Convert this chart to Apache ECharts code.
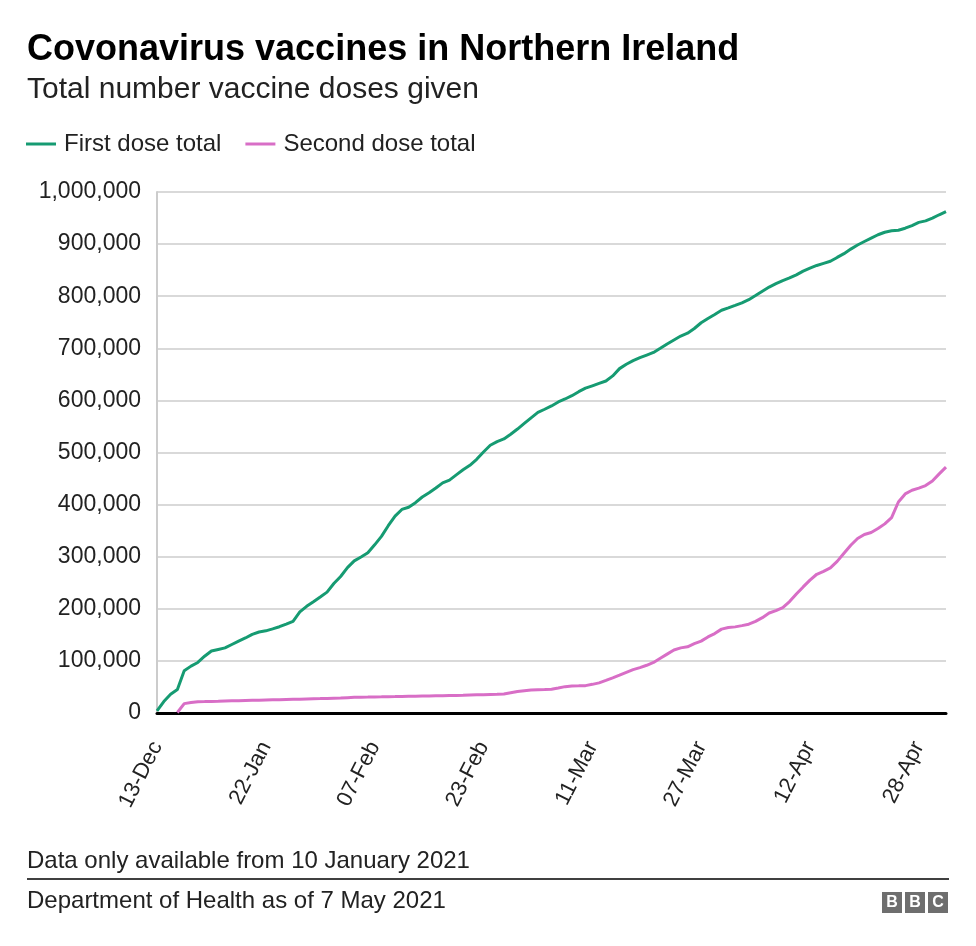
<!DOCTYPE html>
<html>
<head>
<meta charset="utf-8">
<script src="https://cdn.jsdelivr.net/npm/echarts@6/dist/echarts.min.js"></script>
<style>
html,body{margin:0;padding:0;background:#fff;}
#chart{width:976px;height:946px;}
</style>
</head>
<body>
<div id="chart"></div>
<script>
const categories = ["13-Dec",
"07-Jan","08-Jan","09-Jan","10-Jan","11-Jan","12-Jan","13-Jan","14-Jan","15-Jan","16-Jan","17-Jan","18-Jan","19-Jan","20-Jan","21-Jan","22-Jan","23-Jan","24-Jan","25-Jan","26-Jan","27-Jan","28-Jan","29-Jan","30-Jan","31-Jan",
"01-Feb","02-Feb","03-Feb","04-Feb","05-Feb","06-Feb","07-Feb","08-Feb","09-Feb","10-Feb","11-Feb","12-Feb","13-Feb","14-Feb","15-Feb","16-Feb","17-Feb","18-Feb","19-Feb","20-Feb","21-Feb","22-Feb","23-Feb","24-Feb","25-Feb","26-Feb","27-Feb","28-Feb",
"01-Mar","02-Mar","03-Mar","04-Mar","05-Mar","06-Mar","07-Mar","08-Mar","09-Mar","10-Mar","11-Mar","12-Mar","13-Mar","14-Mar","15-Mar","16-Mar","17-Mar","18-Mar","19-Mar","20-Mar","21-Mar","22-Mar","23-Mar","24-Mar","25-Mar","26-Mar","27-Mar","28-Mar","29-Mar","30-Mar","31-Mar",
"01-Apr","02-Apr","03-Apr","04-Apr","05-Apr","06-Apr","07-Apr","08-Apr","09-Apr","10-Apr","11-Apr","12-Apr","13-Apr","14-Apr","15-Apr","16-Apr","17-Apr","18-Apr","19-Apr","20-Apr","21-Apr","22-Apr","23-Apr","24-Apr","25-Apr","26-Apr","27-Apr","28-Apr","29-Apr","30-Apr",
"01-May","02-May"];

const firstDose = [4000,
22000,36000,45000,81000,90000,97000,109000,119000,122000,125000,131500,138000,144000,151000,155400,157700,161500,165600,170700,176000,194000,204800,213600,222600,232000,
248500,262000,279000,292000,299400,307500,322800,339000,359500,377800,390700,395000,403700,414600,422800,431900,441700,447000,457000,466800,475500,487000,501000,514000,521000,526000,535000,545000,
555800,566600,577000,583000,589400,597000,602700,609000,616700,623400,628000,632600,637200,647000,661000,669400,676400,682000,687000,692000,700000,708300,716000,723500,729000,738000,749000,
757300,765000,773000,777500,782300,787300,793300,801400,809600,817600,824000,830000,835000,841000,848000,853700,859000,863000,867000,874400,881600,890400,898300,905000,911500,918000,922800,925500,926700,930500,
935600,941700,944600,950000,956300,962400];

const secondDose = [null,
null,null,1000,18000,20000,21800,22000,22300,22600,23000,23300,23600,24000,24300,24600,25000,25300,25600,26000,26300,26600,27000,27300,27600,28000,
28300,28600,29500,30000,30300,30500,30800,31000,31300,31500,31800,32000,32200,32400,32600,32900,33100,33400,33700,34000,34400,34800,35200,35600,36000,36600,39000,41200,
42700,44000,44600,45100,45700,48000,50600,52000,52200,52500,55000,57800,62500,67400,72500,78000,83200,87000,91600,97000,105000,113000,121000,125000,127000,133000,138000,
146000,152500,161000,164000,165300,167700,170500,176000,183000,192000,196500,202400,214000,228500,242000,255000,266300,272000,278500,291000,306500,322000,334900,342700,346400,354000,363000,375000,405000,420500,
427500,431500,436600,445400,459000,472000];

const yTicks = [0,100000,200000,300000,400000,500000,600000,700000,800000,900000,1000000];

const FONT = "'Liberation Sans', Arial, Helvetica, sans-serif";
const GREEN = '#169b72';
const PINK = '#d86ec6';

const chart = echarts.init(document.getElementById('chart'), null, {renderer:'canvas'});
chart.setOption({
  animation:false,
  backgroundColor:'#fff',
  textStyle:{fontFamily:FONT},
  title:{
    text:'Covonavirus vaccines in Northern Ireland',
    subtext:'Total number vaccine doses given',
    left:22, top:32, padding:[0,5,0,5],
    itemGap:7,
    textStyle:{fontFamily:FONT,fontSize:36,fontWeight:'bold',color:'#000'},
    subtextStyle:{fontFamily:FONT,fontSize:30,color:'#222'}
  },
  legend:{
    left:26, top:132, padding:0,
    icon:'rect', itemWidth:30, itemHeight:3, itemGap:24,
    textStyle:{fontFamily:FONT,fontSize:24,color:'#222',padding:[0,0,0,3]},
    data:['First dose total','Second dose total']
  },
  grid:{left:157,right:30,top:192,bottom:233,containLabel:false},
  xAxis:{
    type:'category',
    data:categories,
    boundaryGap:false,
    axisLine:{show:true,lineStyle:{color:'#000',width:3}},
    axisTick:{show:false},
    splitLine:{show:false},
    axisLabel:{
      interval:15,
      rotate:63,
      margin:30,
      padding:[0,0,0,0],
      fontFamily:FONT,fontSize:22,color:'#222'
    }
  },
  yAxis:{
    type:'value',
    min:0,max:1000000,interval:100000,
    axisLine:{show:true,lineStyle:{color:'#cccccc',width:2}},
    axisTick:{show:false},
    splitLine:{show:true,lineStyle:{color:'#cccccc',width:1.5}},
    axisLabel:{
      margin:16,
      fontFamily:FONT,fontSize:23,color:'#222',
      formatter:function(v){return v.toLocaleString('en-US');}
    }
  },
  series:[
    {name:'First dose total',type:'line',data:firstDose,showSymbol:false,symbol:'none',
     lineStyle:{color:GREEN,width:3},itemStyle:{color:GREEN},z:3},
    {name:'Second dose total',type:'line',data:secondDose,showSymbol:false,symbol:'none',connectNulls:false,
     lineStyle:{color:PINK,width:3},itemStyle:{color:PINK},z:3}
  ],
  graphic:[
    {type:'text',left:27,top:849,style:{text:'Data only available from 10 January 2021',font:'24px '+FONT,fill:'#222'}},
    {type:'line',shape:{x1:27,y1:879,x2:949,y2:879},style:{stroke:'#000',lineWidth:1.5}},
    {type:'text',left:27,top:889,style:{text:'Department of Health as of 7 May 2021',font:'24px '+FONT,fill:'#222'}},
    {type:'group',left:882,top:892,children:[
      {type:'rect',shape:{x:0,y:0,width:20,height:21},style:{fill:'#6e6e6e'}},
      {type:'text',x:10,y:11,style:{text:'B',font:'bold 16px '+FONT,fill:'#fff',align:'center',verticalAlign:'middle'}},
      {type:'rect',shape:{x:23,y:0,width:20,height:21},style:{fill:'#6e6e6e'}},
      {type:'text',x:33,y:11,style:{text:'B',font:'bold 16px '+FONT,fill:'#fff',align:'center',verticalAlign:'middle'}},
      {type:'rect',shape:{x:46,y:0,width:20,height:21},style:{fill:'#6e6e6e'}},
      {type:'text',x:56,y:11,style:{text:'C',font:'bold 16px '+FONT,fill:'#fff',align:'center',verticalAlign:'middle'}}
    ]}
  ]
});
</script>
</body>
</html>
